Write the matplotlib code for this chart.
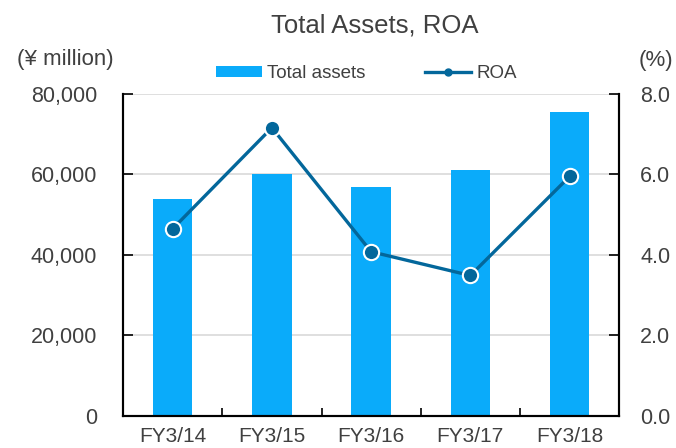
import matplotlib
matplotlib.use("Agg")
import matplotlib.pyplot as plt
from matplotlib.lines import Line2D
from matplotlib.patches import Patch
import numpy as np

categories = ["FY3/14", "FY3/15", "FY3/16", "FY3/17", "FY3/18"]
total_assets = [54000, 60000, 57000, 61200, 75500]
roa = [4.65, 7.16, 4.08, 3.49, 5.95]
left_ticks = [0, 20000, 40000, 60000, 80000]
left_labels = ["0", "20,000", "40,000", "60,000", "80,000"]
right_ticks = [0.0, 2.0, 4.0, 6.0, 8.0]
right_labels = ["0.0", "2.0", "4.0", "6.0", "8.0"]

plt.rcParams['font.family'] = ['Liberation Sans', 'DejaVu Sans']
TXT = "#404040"
BAR = "#0AABFA"
LINE = "#03679B"

fig = plt.figure(figsize=(6.76, 4.48), dpi=100)
ax = fig.add_axes([0.182, 0.0714, 0.734, 0.719])
x = np.arange(len(categories))
ax.bar(x, total_assets, width=0.4, color=BAR, zorder=2)
ax.set_xlim(-0.5, len(categories) - 0.5)
ax.set_ylim(0, 80000)
ax.set_yticks(left_ticks)
ax.set_yticklabels(left_labels)
ax.yaxis.grid(True, color="#d9d9d9", linewidth=1.2, zorder=0)
ax.set_axisbelow(True)
ax.set_xticks(x)
ax.set_xticklabels(categories)
ax.set_xticks(np.arange(len(categories) + 1) - 0.5, minor=True)
ax.tick_params(axis='x', which='major', length=0, labelsize=15, labelcolor=TXT, pad=8)
ax.tick_params(axis='x', which='minor', direction='in', length=6, width=1.2)
ax.tick_params(axis='y', direction='in', length=7, width=1.2, labelsize=15.5, labelcolor=TXT, pad=18.5)
ax.spines['top'].set_visible(False)
for s in ['left', 'bottom', 'right']:
    ax.spines[s].set_linewidth(1.5)

ax2 = ax.twinx()
ax2.plot(x, roa, color=LINE, linewidth=2.4, marker='o', markersize=11,
         markerfacecolor=LINE, markeredgecolor='white', markeredgewidth=1.5, zorder=3)
ax2.set_ylim(0, 8)
ax2.set_yticks(right_ticks)
ax2.set_yticklabels(right_labels)
ax2.tick_params(axis='y', direction='in', length=7, width=1.2, labelsize=15.5, labelcolor=TXT, pad=15)
ax2.spines['top'].set_visible(False)
for s in ['left', 'bottom', 'right']:
    ax2.spines[s].set_linewidth(1.5)

fig.text(0.555, 0.942, "Total Assets, ROA", ha='center', va='center', fontsize=18.5, color=TXT)
fig.text(0.096, 0.868, "(\u00a5 million)", ha='center', va='center', fontsize=16, color=TXT)
fig.text(0.970, 0.864, "(%)", ha='center', va='center', fontsize=16, color=TXT)

handles = [Patch(facecolor=BAR, edgecolor='none'),
           Line2D([0], [0], color=LINE, linewidth=2.4, marker='o', markersize=5,
                  markerfacecolor=LINE, markeredgecolor=LINE)]
fig.legend(handles, ["Total assets", "ROA"], loc='center', bbox_to_anchor=(0.542, 0.836),
           ncol=2, frameon=False, fontsize=13.5, labelcolor=TXT, handlelength=2.45,
           handleheight=0.5, columnspacing=3.2, handletextpad=0.28, borderpad=0.2)

fig.savefig("out.png", dpi=100)
